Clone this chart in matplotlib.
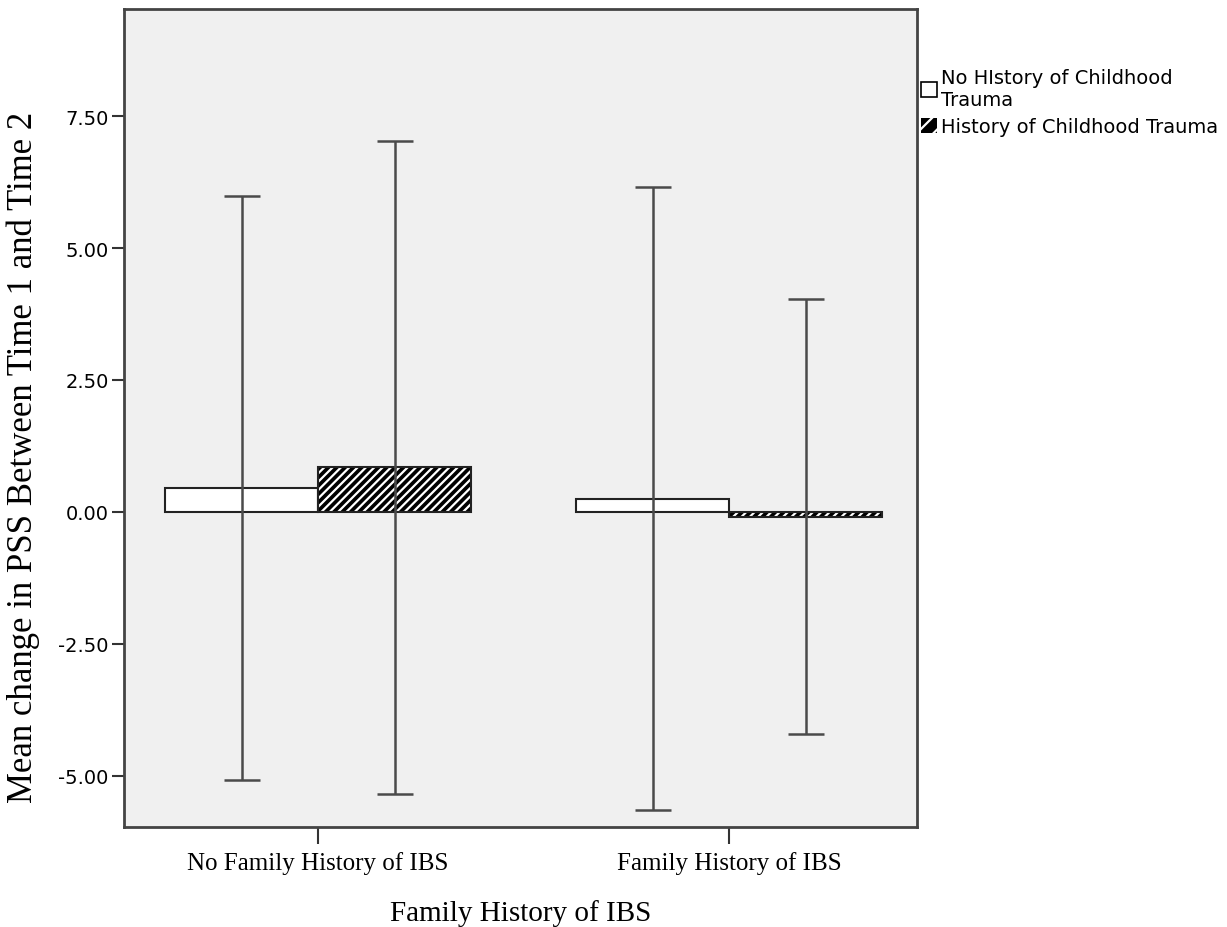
import matplotlib
matplotlib.use("Agg")
import matplotlib.pyplot as plt
from matplotlib.patches import Patch
import numpy as np

# group means and error bar limits
groups = ["No Family History of IBS", "Family History of IBS"]
series = ["No HIstory of Childhood\nTrauma", "History of Childhood Trauma"]
means_no_trauma = [0.45, 0.25]
means_trauma = [0.85, -0.10]
upper_no_trauma = [5.98, 6.16]
lower_no_trauma = [-5.08, -5.64]
upper_trauma = [7.03, 4.03]
lower_trauma = [-5.34, -4.20]
yticks = [-5.0, -2.5, 0.0, 2.5, 5.0, 7.5]

plt.rcParams['hatch.linewidth'] = 1.6

fig = plt.figure(figsize=(12.27, 9.28), dpi=100)
ax = fig.add_axes([0.1011, 0.1078, 0.6463, 0.8815])
ax.set_facecolor('#f0f0f0')

x = np.arange(len(groups))
w = 0.372

# plain bars
ax.bar(x - w/2, means_no_trauma, w, color='white', edgecolor='#222222', linewidth=1.5, zorder=2)
# hatched bars: black fill with white stripes, then outline on top
ax.bar(x + w/2, means_trauma, w, color='black', edgecolor='white', hatch='////', linewidth=0, zorder=2)
ax.bar(x + w/2, means_trauma, w, fill=False, edgecolor='#222222', linewidth=1.5, zorder=3)

def draw_err(xs, means, up, lo):
    m = np.array(means)
    yerr = [m - np.array(lo), np.array(up) - m]
    ax.errorbar(xs, m, yerr=yerr, fmt='none', ecolor='#4a4a4a', elinewidth=1.8,
                capsize=13, capthick=1.8, zorder=4)

draw_err(x - w/2, means_no_trauma, upper_no_trauma, lower_no_trauma)
draw_err(x + w/2, means_trauma, upper_trauma, lower_trauma)

ax.set_xlim(-0.472, 1.457)
ax.set_ylim(-5.97, 9.53)
ax.set_yticks(yticks)
ax.set_yticklabels(["%.2f" % v for v in yticks], fontsize=14, family='DejaVu Sans')
ax.set_xticks(x)
ax.set_xticklabels(groups, fontsize=18, family='Liberation Serif')
ax.tick_params(axis='y', length=9, width=1.5, color='#333333', pad=2)
ax.tick_params(axis='x', length=12, width=1.5, color='#333333', pad=5)

for s in ax.spines.values():
    s.set_linewidth(2)
    s.set_color('#444444')

ax.set_ylabel("Mean change in PSS Between Time 1 and Time 2", fontsize=25,
              family='Liberation Serif')
ax.yaxis.set_label_coords(-0.106, 0.4535)
ax.set_xlabel("Family History of IBS", fontsize=21, family='Liberation Serif', labelpad=18)

handles = [Patch(facecolor='white', edgecolor='black', linewidth=1.2),
           Patch(facecolor='black', edgecolor='white', hatch='//', linewidth=0)]
leg = ax.legend(handles, series, loc='upper left', bbox_to_anchor=(0.995, 0.937),
                frameon=False, prop={'family': 'DejaVu Sans', 'size': 14},
                handlelength=0.85, handleheight=0.85, handletextpad=0.2,
                labelspacing=0.4, borderaxespad=0.0)

fig.savefig("out.png", dpi=100)
